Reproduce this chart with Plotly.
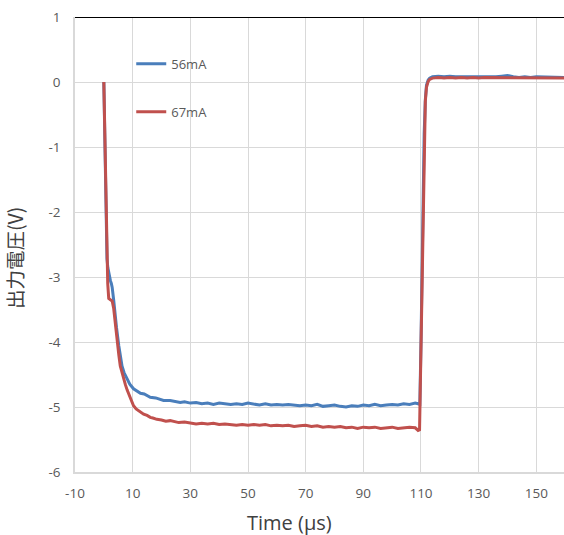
import plotly.graph_objects as go

# ---- data ----
t_56 = [0, 0.3, 0.67, 0.9, 1.1, 1.4, 1.7, 2.0, 2.3, 2.6, 2.9, 3.4, 3.9, 4.4, 5.2, 5.7, 6.3, 7.0,
        8.1, 9.0, 10.3, 11.5, 12.7, 14.0, 16.1, 18, 20.7, 23, 26.5, 28,
        30, 32, 34, 36, 38, 40, 42, 44, 46, 48, 50, 52, 54, 56, 58, 60, 62, 64, 66, 68,
        70, 72, 74, 76, 78, 80, 82, 84, 86, 88, 90, 92, 94, 96, 98, 100, 102, 104, 106, 108,
        109, 109.6, 110.0, 110.3, 110.7, 111.1, 111.5, 111.9, 112.5, 113, 114, 116,
        118, 120, 122, 124, 126, 128, 130, 132, 134, 136, 138, 140, 142, 144, 146, 148,
        150, 152, 154, 156, 158, 160]
v_56 = [0, -0.75, -1.7, -2.3, -2.72, -2.86, -2.94, -2.98, -3.06, -3.10, -3.16, -3.35, -3.62, -3.78,
        -4.06, -4.2, -4.37, -4.47, -4.57, -4.65, -4.72, -4.75, -4.79, -4.80, -4.85, -4.86, -4.90,
        -4.90, -4.93, -4.92,
        -4.94, -4.93, -4.95, -4.94, -4.96, -4.94, -4.95, -4.96, -4.95, -4.96, -4.94, -4.96, -4.97,
        -4.95, -4.97, -4.96, -4.97, -4.96, -4.97, -4.98, -4.97, -4.98, -4.96, -4.99, -4.98, -4.97,
        -4.99, -5.00, -4.98, -4.99, -4.97, -4.98, -4.96, -4.98, -4.97, -4.96, -4.97, -4.95, -4.96,
        -4.94, -4.95, -4.96, -4.0, -2.9, -1.8, -0.8, -0.28, -0.05, 0.03, 0.06, 0.08, 0.09,
        0.08, 0.09, 0.08, 0.08, 0.07, 0.08, 0.07, 0.08, 0.07, 0.08, 0.09, 0.10, 0.08, 0.07, 0.08,
        0.07, 0.08, 0.08, 0.07, 0.08, 0.07, 0.07]

t_67 = [0, 0.3, 0.67, 1.0, 1.35, 1.7, 2.1, 2.5, 2.9, 3.4, 4.0, 4.6, 5.2, 5.7, 6.3, 6.9, 7.5, 8.1,
        8.6, 9.2, 9.8, 10.3, 11.2, 12.1, 13, 13.8, 15, 16.1, 17, 18.4, 20, 21.5, 23, 24.5, 26, 28,
        30, 32, 34, 36, 38, 40, 42, 44, 46, 48, 50, 52, 54, 56, 58, 60, 62, 64, 66, 68,
        70, 72, 74, 76, 78, 80, 82, 84, 86, 88, 90, 92, 94, 96, 98, 100, 102, 104, 106, 108,
        109, 109.5, 110.0, 110.3, 110.7, 111.1, 111.5, 111.9, 112.5, 113, 114, 116,
        118, 120, 122, 124, 126, 128, 130, 132, 134, 136, 138, 140, 142, 144, 146, 148,
        150, 152, 154, 156, 158, 160]
v_67 = [0, -0.75, -1.7, -2.5, -3.1, -3.33, -3.34, -3.35, -3.37, -3.48, -3.76, -4.01, -4.20, -4.37,
        -4.48, -4.57, -4.66, -4.74, -4.80, -4.88, -4.94, -4.98, -5.03, -5.06, -5.09, -5.11, -5.13,
        -5.16, -5.17, -5.19, -5.20, -5.22, -5.21, -5.23, -5.24, -5.23,
        -5.25, -5.26, -5.25, -5.26, -5.25, -5.27, -5.26, -5.27, -5.28, -5.27, -5.28, -5.27, -5.28,
        -5.27, -5.29, -5.28, -5.29, -5.28, -5.30, -5.29, -5.28, -5.30, -5.29, -5.31, -5.30, -5.31,
        -5.30, -5.32, -5.31, -5.33, -5.31, -5.32, -5.31, -5.33, -5.32, -5.31, -5.33, -5.32, -5.31,
        -5.32, -5.36, -5.35, -4.0, -2.9, -1.8, -0.8, -0.3, -0.08, 0.01, 0.04, 0.06, 0.07,
        0.06, 0.07, 0.06, 0.07, 0.06, 0.07, 0.06, 0.07, 0.07, 0.06, 0.07, 0.06, 0.07, 0.06, 0.07,
        0.06, 0.07, 0.06, 0.06, 0.07, 0.06, 0.06]

series_names = ["56mA", "67mA"]
x_ticks = [-10, 10, 30, 50, 70, 90, 110, 130, 150]
x_tick_labels = ["-10", "10", "30", "50", "70", "90", "110", "130", "150"]
y_ticks = [-6, -5, -4, -3, -2, -1, 0, 1]
y_tick_labels = ["-6", "-5", "-4", "-3", "-2", "-1", "0", "1"]

BLUE = "#4A7EBB"
RED = "#C0504D"
GRID = "#D9D9D9"
TICKC = "#595959"
FONT = "Open Sans"

fig = go.Figure()
fig.add_trace(go.Scatter(x=t_56, y=v_56, mode="lines", name=series_names[0],
                         line=dict(color=BLUE, width=3), legendgroup="a"))
fig.add_trace(go.Scatter(x=t_67, y=v_67, mode="lines", name=series_names[1],
                         line=dict(color=RED, width=3), legendgroup="b"))

fig.update_layout(
    width=564, height=535, autosize=False,
    margin=dict(l=75, r=0, t=17, b=63),
    plot_bgcolor="white", paper_bgcolor="white",
    font=dict(family=FONT, size=13, color=TICKC),
    showlegend=True,
    legend=dict(x=0.115, y=0.93, xanchor="left", yanchor="top",
                bgcolor="rgba(0,0,0,0)", traceorder="grouped", tracegroupgap=28,
                font=dict(family=FONT, size=13, color=TICKC)),
    xaxis=dict(range=[-10, 159.6], tickvals=x_ticks, ticktext=x_tick_labels,
               showgrid=True, gridcolor=GRID, gridwidth=1,
               zeroline=False, showline=True, linecolor=GRID, linewidth=1.5,
               tickfont=dict(family=FONT, size=13.5, color=TICKC), ticks="", ticklabelstandoff=8),
    yaxis=dict(range=[-6, 1], tickvals=y_ticks, ticktext=y_tick_labels,
               showgrid=True, gridcolor=GRID, gridwidth=1,
               zeroline=False, showline=True, linecolor=GRID, linewidth=1.5,
               tickfont=dict(family=FONT, size=13.5, color=TICKC), ticks="", ticklabelstandoff=10),
    shapes=[dict(type="line", xref="paper", yref="y", x0=0, x1=1, y0=1, y1=1,
                 line=dict(color="black", width=2))],
    annotations=[
        dict(text="Time (µs)", xref="paper", yref="paper", x=0.438, y=-0.112,
             xanchor="center", yanchor="middle", showarrow=False,
             font=dict(family=FONT, size=20, color="#404040")),
        dict(text="出力電圧(V)", xref="paper", yref="paper", x=-0.125, y=0.47,
             xanchor="center", yanchor="middle", showarrow=False, textangle=-90,
             font=dict(family="Noto Sans CJK JP", size=19.5, color="#404040")),
    ],
)

post = ("document.body.style.margin='0';document.body.style.padding='0';"
        "document.body.style.overflow='hidden';"
        "var gd=document.getElementById('{plot_id}');"
        "Plotly.relayout(gd,{width:564,height:535});")

fig.write_html("out.html", post_script=post, config={"displayModeBar": False})
